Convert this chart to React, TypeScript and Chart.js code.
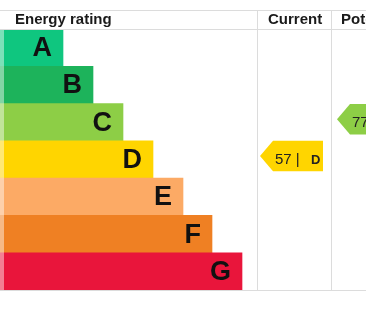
import React, { useEffect, useRef } from "react";
import { Chart, registerables } from "chart.js";

Chart.register(...registerables);

const bands = ["A", "B", "C", "D", "E", "F", "G"];
const bandLengths = [63, 93, 123, 153, 183, 212, 242];
const bandColors = ["#0fc67f", "#1db35b", "#8dce46", "#ffd500", "#fcaa65", "#ef8023", "#e9153b"];
const headerLabels = ["Energy rating", "Current", "Potential"];
const currentScore = 57;
const currentBand = "D";
const potentialScore = 77;
const potentialBand = "C";

const FONT = "Arial, 'Liberation Sans', sans-serif";
const W = 366;
const H = 311;
const TOP_LINE = 10.5;
const HEADER_BOTTOM = 29;
const BOTTOM = 290;
const COL1 = 257.5;
const COL2 = 331.5;

const epcPlugin = {
  id: "epc",
  afterDraw(chart: any) {
    const ctx = chart.ctx;
    const y = chart.scales.y;
    const meta = chart.getDatasetMeta(0);
    const rowH = (BOTTOM - HEADER_BOTTOM) / bands.length;
    ctx.save();
    // left light strip
    ctx.fillStyle = "rgba(255,255,255,0.45)";
    ctx.fillRect(0, HEADER_BOTTOM, 4, BOTTOM - HEADER_BOTTOM);

    // letters
    ctx.fillStyle = "#111";
    ctx.font = `bold 27px ${FONT}`;
    ctx.textAlign = "right";
    ctx.textBaseline = "middle";
    meta.data.forEach((bar: any, i: number) => {
      ctx.fillText(bands[i], bar.x - 11, bar.y + 1);
    });

    // grid lines
    ctx.strokeStyle = "#dcdcdc";
    ctx.lineWidth = 1;
    ctx.beginPath();
    ctx.moveTo(0, TOP_LINE);
    ctx.lineTo(W, TOP_LINE);
    ctx.moveTo(0, HEADER_BOTTOM + 0.5);
    ctx.lineTo(W, HEADER_BOTTOM + 0.5);
    ctx.moveTo(0, BOTTOM + 0.5);
    ctx.lineTo(W, BOTTOM + 0.5);
    ctx.moveTo(COL1, TOP_LINE);
    ctx.lineTo(COL1, BOTTOM);
    ctx.moveTo(COL2, TOP_LINE);
    ctx.lineTo(COL2, BOTTOM);
    ctx.stroke();

    // headers
    ctx.fillStyle = "#1a1a1a";
    ctx.font = `bold 15px ${FONT}`;
    ctx.textAlign = "left";
    ctx.textBaseline = "middle";
    ctx.fillText(headerLabels[0], 15, 20);
    ctx.fillText(headerLabels[1], 268, 20);
    ctx.fillText(headerLabels[2], 341, 20);

    const drawArrow = (tip: number, band: string, score: number, dy: number) => {
      const idx = bands.indexOf(band);
      const cy = y.getPixelForValue(idx);
      const top = cy - rowH / 2 + dy;
      const h = 30.5;
      const notch = tip + 13;
      const right = tip + 63;
      ctx.fillStyle = bandColors[idx];
      ctx.beginPath();
      ctx.moveTo(tip, top + h / 2);
      ctx.lineTo(notch, top);
      ctx.lineTo(right, top);
      ctx.lineTo(right, top + h);
      ctx.lineTo(notch, top + h);
      ctx.closePath();
      ctx.fill();
      ctx.fillStyle = "#222";
      ctx.textAlign = "left";
      ctx.textBaseline = "middle";
      ctx.font = `15px ${FONT}`;
      const t1 = `${score} |`;
      ctx.fillText(t1, tip + 15, cy + 0.5);
      ctx.font = `bold 13px ${FONT}`;
      ctx.fillText(band, tip + 51, cy + 0.5);
    };
    drawArrow(260, currentBand, currentScore, 0);
    drawArrow(337, potentialBand, potentialScore, 0.5);
    ctx.restore();
  },
};

export default function App() {
  const ref = useRef<HTMLCanvasElement>(null);
  useEffect(() => {
    if (!ref.current) return;
    const chart = new Chart(ref.current, {
      type: "bar",
      data: {
        labels: bands,
        datasets: [
          {
            data: bandLengths,
            backgroundColor: bandColors,
            borderWidth: 0,
            categoryPercentage: 1,
            barPercentage: 1,
          },
        ],
      },
      options: {
        indexAxis: "y",
        responsive: false,
        animation: false,
        layout: { padding: { top: HEADER_BOTTOM, bottom: H - BOTTOM, left: 0, right: 0 } },
        scales: {
          x: { display: false, min: 0, max: W },
          y: { display: false },
        },
        plugins: { legend: { display: false }, tooltip: { enabled: false } },
      },
      plugins: [epcPlugin],
    });
    return () => chart.destroy();
  }, []);
  return (
    <div style={{ position: "fixed", left: 0, top: 0, width: W, height: H, background: "#fff" }}>
      <canvas ref={ref} width={W} height={H} style={{ display: "block", width: W, height: H }} />
    </div>
  );
}
